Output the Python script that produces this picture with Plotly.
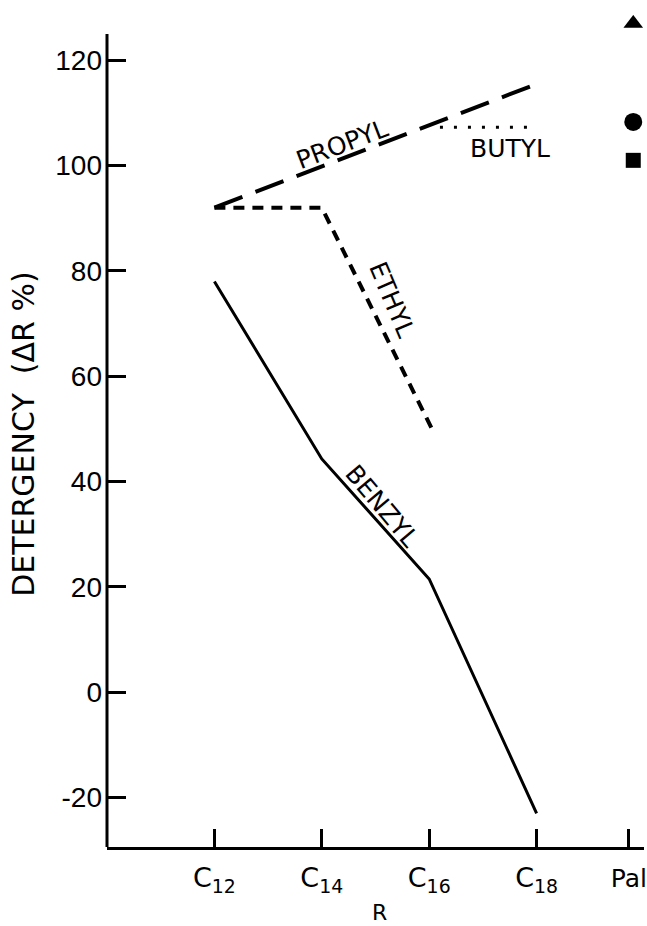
import plotly.graph_objects as go

# ---- data ----
x_tick_labels = ["C<sub>12</sub>", "C<sub>14</sub>", "C<sub>16</sub>", "C<sub>18</sub>",
                 "<span style='font-size:25px'>Pal</span>"]
x_tick_pos = [12, 14, 16, 18, 19.72]
y_ticks = [-20, 0, 20, 40, 60, 80, 100, 120]
y_tick_labels = ["-20", "0", "20", "40", "60", "80", "100", "120"]

benzyl_x = [12, 14, 16, 18]
benzyl_y = [78, 44.3, 21.5, -23]
ethyl_x = [12, 14, 16.1]
ethyl_y = [92, 92, 49]
propyl_x = [12, 18]
propyl_y = [92, 115.5]
butyl_x = [16.2, 18]
butyl_y = [107.3, 107.3]
pal_x = [19.8, 19.8, 19.8]
pal_y = [127, 108.3, 101]
pal_symbols = ["triangle-up", "circle", "square"]

Y_MIN, Y_MAX, Y_AXIS_TOP = -29.4, 128.6, 125

LABEL_FONT = "DejaVu Sans, Liberation Sans, Arial, sans-serif"
NUM_FONT = "Liberation Sans, Arial, DejaVu Sans, sans-serif"

fig = go.Figure()
fig.add_trace(go.Scatter(x=benzyl_x, y=benzyl_y, mode="lines",
                         line=dict(color="black", width=3), showlegend=False))
fig.add_trace(go.Scatter(x=ethyl_x, y=ethyl_y, mode="lines",
                         line=dict(color="black", width=4, dash="11px,8px"), showlegend=False))
fig.add_trace(go.Scatter(x=propyl_x, y=propyl_y, mode="lines",
                         line=dict(color="black", width=4, dash="30px,14px"), showlegend=False))
fig.add_trace(go.Scatter(x=butyl_x, y=butyl_y, mode="lines",
                         line=dict(color="black", width=3, dash="3px,11px"), showlegend=False))
fig.add_trace(go.Scatter(x=pal_x, y=pal_y, mode="markers",
                         marker=dict(symbol=pal_symbols, size=[17, 18, 15], color="#000000",
                                     opacity=1, line=dict(width=0, color="#000000")),
                         showlegend=False))

labels = [
    ("PROPYL", 14.37, 104.1, -21),
    ("BUTYL", 17.5, 103.3, 0),
    ("ETHYL", 15.3, 74.5, 67),
    ("BENZYL", 15.13, 35.3, 50),
]
for txt, xx, yy, ang in labels:
    fig.add_annotation(x=xx, y=yy, xref="x", yref="y", text=txt, showarrow=False,
                       xanchor="center", yanchor="middle",
                       textangle=ang, font=dict(family=LABEL_FONT, size=25, color="black"))

# axis titles
fig.add_annotation(x=-0.157, y=49, xref="paper", yref="y",
                   text="DETERGENCY  (ΔR %)", showarrow=False, textangle=-90,
                   xanchor="center", yanchor="middle",
                   font=dict(family=LABEL_FONT, size=30, color="black"))
fig.add_annotation(x=0.508, y=-0.079, xref="paper", yref="paper",
                   text="R", showarrow=False, xanchor="center", yanchor="middle",
                   font=dict(family=LABEL_FONT, size=22, color="black"))

# left axis line stops at the top of the drawn scale (the Pal triangle sits above it)
fig.add_shape(type="line", xref="paper", yref="y", x0=0, x1=0, y0=Y_MIN, y1=Y_AXIS_TOP,
              line=dict(color="black", width=3))

fig.update_layout(
    width=647, height=926,
    margin=dict(l=107, r=3, t=15, b=79),
    paper_bgcolor="white", plot_bgcolor="white",
    xaxis=dict(range=[10, 20], tickvals=x_tick_pos, ticktext=x_tick_labels,
               ticks="inside", ticklen=18, tickwidth=3, tickcolor="black",
               showline=True, linewidth=3, linecolor="black", showgrid=False,
               zeroline=False, ticklabelstandoff=5, automargin=False,
               ticklabeloverflow="allow",
               tickfont=dict(family=LABEL_FONT, size=27, color="black")),
    yaxis=dict(range=[Y_MIN, Y_MAX], tickvals=y_ticks, ticktext=y_tick_labels,
               ticks="inside", ticklen=19, tickwidth=3, tickcolor="black",
               showline=False, showgrid=False,
               zeroline=False, ticklabelstandoff=4, automargin=False,
               tickfont=dict(family=NUM_FONT, size=28, color="black")),
)

# remove the default page margin so the 647x926 figure fills the window exactly
fig.write_html("out.html", config={"displayModeBar": False},
               post_script="document.body.style.margin='0';document.body.style.overflow='hidden';")
